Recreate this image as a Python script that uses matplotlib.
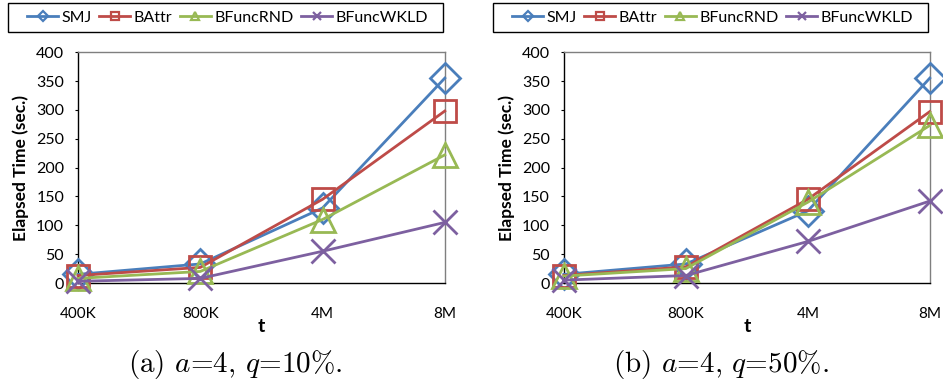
import matplotlib
matplotlib.use("Agg")
import matplotlib.pyplot as plt
from matplotlib.patches import Rectangle

plt.rcParams['font.family'] = ['Lato', 'DejaVu Sans']
plt.rcParams['mathtext.fontset'] = 'cm'

sizes = ["400K", "800K", "4M", "8M"]
series = ["SMJ", "BAttr", "BFuncRND", "BFuncWKLD"]

# panel (a): a=4, q=10%
smj_a = [15, 33, 130, 355]
battr_a = [13, 27, 145, 298]
brnd_a = [8, 20, 110, 222]
bwkld_a = [3, 8, 55, 105]

# panel (b): a=4, q=50%
smj_b = [15, 33, 125, 355]
battr_b = [13, 28, 145, 297]
brnd_b = [12, 25, 140, 273]
bwkld_b = [5, 13, 72, 142]

captions = ["(a) $a$=4, $q$=10%.", "(b) $a$=4, $q$=50%."]

colors = ["#4A7EBB", "#BE4B48", "#98B954", "#7D60A0"]
markers = ["D", "s", "^", "x"]
msizes = [15, 16, 17, 17]

W, H = 943, 388
fig = plt.figure(figsize=(W / 100, H / 100), dpi=100)
ax1 = fig.add_axes([0.0827, 0.2706, 0.389, 0.595])
ax2 = fig.add_axes([0.598, 0.2706, 0.388, 0.595])

panels = [(ax1, [smj_a, battr_a, brnd_a, bwkld_a], captions[0], 0.249, 8),
          (ax2, [smj_b, battr_b, brnd_b, bwkld_b], captions[1], 0.765, 493)]

for ax, data, cap, lx, fx in panels:
    xs = range(len(sizes))
    for name, vals, c, m, ms in zip(series, data, colors, markers, msizes):
        ax.plot(xs, vals, color=c, linewidth=2, marker=m, markersize=ms,
                markerfacecolor="none", markeredgecolor=c, markeredgewidth=2,
                label=name, clip_on=False, zorder=3)
    ax.set_xlim(0, len(sizes) - 1)
    ax.set_ylim(0, 400)
    ax.set_yticks(range(0, 401, 50))
    ax.set_xticks(list(xs))
    ax.set_xticklabels(sizes)
    ax.tick_params(axis="y", direction="out", length=2, labelsize=11.5, pad=8)
    ax.tick_params(axis="x", length=0, labelsize=11, pad=17)
    for key, sp in ax.spines.items():
        sp.set_linewidth(1.0)
        sp.set_color("black" if key in ("left", "bottom") else "#7f7f7f")
    ax.set_ylabel("Elapsed Time (sec.)", fontweight="bold", fontsize=12.5, labelpad=5)
    ax.set_xlabel("t", fontweight="bold", fontsize=14, labelpad=-2)

    # legend content spread across the box, box drawn separately
    leg = ax.legend(loc="center left", ncol=4,
                    bbox_to_anchor=((fx + 19) / W, 1 - 17.5 / H, 401 / W, 0),
                    bbox_transform=fig.transFigure, mode="expand", frameon=False,
                    fontsize=11.5, markerscale=0.32, handlelength=1.95,
                    handletextpad=0.2, borderpad=0, borderaxespad=0)
    for h in leg.legend_handles:
        h.set_markeredgewidth(1.6)
    fig.patches.append(Rectangle((fx / W, 1 - 32 / H), 435 / W, 29 / H, fill=False,
                                 edgecolor="black", linewidth=1.0,
                                 transform=fig.transFigure, figure=fig))
    fig.text(lx, 0.06, cap, ha="center", va="center", fontsize=21, family="cmr10")

fig.savefig("out.png", dpi=100)
